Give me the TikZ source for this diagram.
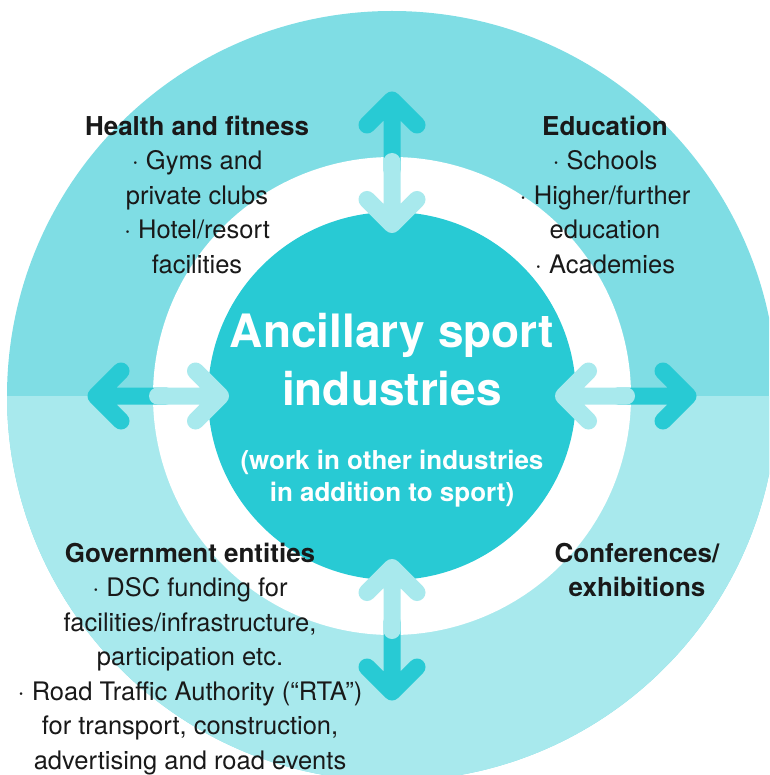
\documentclass[tikz,border=0pt]{standalone}
\usepackage{fontspec}
\setmainfont{TeX Gyre Heros}
\definecolor{ringtop}{RGB}{127,221,228}
\definecolor{ringbot}{RGB}{168,233,237}
\definecolor{core}{RGB}{40,202,212}
\definecolor{ink}{RGB}{25,25,25}
\tikzset{
  disc/.style={circle, inner sep=0pt, draw=none},
  darkarrow/.style={draw=core, line width=17pt, line cap=round, line join=round},
  lightarrow/.style={draw=ringbot, line width=17pt, line cap=round, line join=round},
  bodytext/.style={align=center, inner sep=0pt, anchor=base, text=ink,
    font=\fontsize{25.5}{34.5}\selectfont},
  titletext/.style={align=center, inner sep=0pt, anchor=base, text=white,
    font=\bfseries\fontsize{46}{58}\selectfont},
  subtext/.style={align=center, inner sep=0pt, anchor=base, text=white,
    font=\bfseries\fontsize{26}{32}\selectfont}
}
\newcommand\sechead[1]{{\bfseries\fontsize{26}{34.5}\selectfont #1}}
% #1 = rotation angle, #2 = name prefix
\newcommand\biarrow[2]{%
  \begin{scope}[shift={(392,396)}, rotate=#1]
    \coordinate (#2-dbase) at (226,0);
    \coordinate (#2-dtip) at (296,0);
    \coordinate (#2-da) at (271,-25);
    \coordinate (#2-db) at (271,25);
    \coordinate (#2-lbase) at (234.5,0);
    \coordinate (#2-ltip) at (171.5,0);
    \coordinate (#2-la) at (196.5,-25);
    \coordinate (#2-lb) at (196.5,25);
  \end{scope}
  \draw[darkarrow] (#2-dbase) -- (#2-dtip) (#2-da) -- (#2-dtip) -- (#2-db);
  \draw[lightarrow] (#2-lbase) -- (#2-ltip) (#2-la) -- (#2-ltip) -- (#2-lb);
}
\begin{document}
\begin{tikzpicture}[x=1pt,y=-1pt]
\useasboundingbox (0,0) rectangle (769,775);
\clip (0,0) rectangle (769,775);
% rings
\node[disc, fill=ringtop, minimum size=770pt,
  path picture={\fill[ringbot] (path picture bounding box.west) rectangle (path picture bounding box.south east);}]
  (outer) at (392,396) {};
\node[disc, fill=white, minimum size=478pt] (gap) at (392,396) {};
\node[disc, fill=core, minimum size=368pt] (core) at (392,396) {};
% double arrows
\biarrow{0}{right}
\biarrow{90}{down}
\biarrow{180}{left}
\biarrow{270}{up}
% centre text (anchor base = baseline of last line)
\node[titletext] (title) at (392,405.5) {Ancillary sport\\industries};
\node[subtext] (sub) at (392,501) {(work in other industries\\in addition to sport)};
% sectors
\node[bodytext] (health) at (197,273) {\sechead{Health and fitness}\\· Gyms and\\private clubs\\· Hotel/resort\\facilities};
\node[bodytext] (edu) at (605,273) {\sechead{Education}\\· Schools\\· Higher/further\\education\\· Academies};
\node[bodytext] (gov) at (190,769) {\sechead{Government entities}\\· DSC funding for\\facilities/infrastructure,\\participation etc.\\· Road Traffic Authority (“RTA”)\\for transport, construction,\\advertising and road events};
\node[bodytext] (conf) at (637,596.5) {\sechead{Conferences/}\\\sechead{exhibitions}};
\end{tikzpicture}
\end{document}
